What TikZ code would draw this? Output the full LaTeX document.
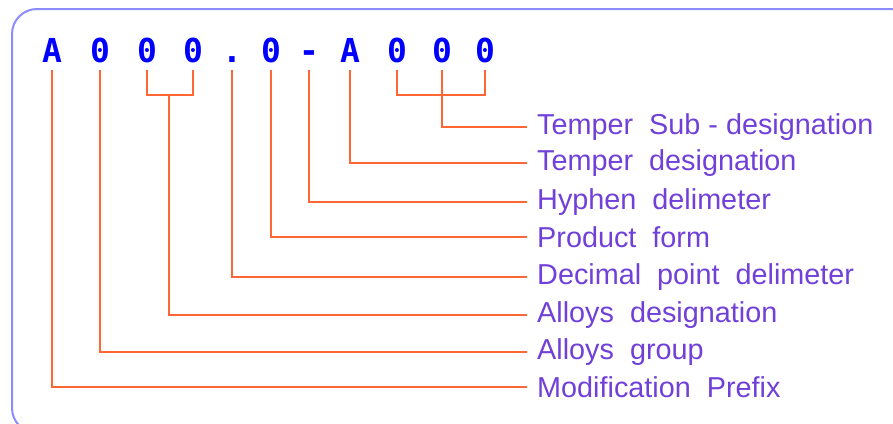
\documentclass[tikz,border=0pt]{standalone}
\usepackage{fontspec}
\setmainfont{Liberation Sans}
\newfontfamily\codefont{DejaVu Sans Mono}
\definecolor{codeblue}{RGB}{0,0,255}
\definecolor{leadorange}{RGB}{255,102,51}
\definecolor{labelpurple}{RGB}{112,64,216}
\definecolor{framecol}{RGB}{140,140,255}
\begin{document}
\begin{tikzpicture}[x=1pt,y=-1pt,
  codechar/.style={font=\codefont\bfseries\fontsize{33}{33}\selectfont, text=codeblue, inner sep=0pt, anchor=base},
  lbl/.style={font=\fontsize{28.8}{29}\selectfont, text=labelpurple, inner sep=0pt, anchor=base west},
  lead/.style={draw=leadorange, line width=2pt}]
\useasboundingbox (0,0) rectangle (893,423);
\begin{scope}
\clip (0,0) rectangle (893,423);
\draw[framecol, line width=2pt, rounded corners=25pt] (12,9) rectangle (915,433);
\end{scope}
% code characters
\node[codechar] (c1) at (52,62) {A};
\node[codechar] (c2) at (100,62) {0};
\node[codechar] (c3) at (147,62) {0};
\node[codechar] (c4) at (193,62) {0};
\node[codechar] (c5) at (232,62) {.};
\node[codechar] (c6) at (271,62) {0};
\node[codechar] (c7) at (309,62) {-};
\node[codechar] (c8) at (350,62) {A};
\node[codechar] (c9) at (397,62) {0};
\node[codechar] (c10) at (442,62) {0};
\node[codechar] (c11) at (485,62) {0};
% labels
\node[lbl] (l1) at (537,134) {Temper\ \ Sub - designation};
\node[lbl] (l2) at (537,170) {Temper\ \ designation};
\node[lbl] (l3) at (537,209) {Hyphen\ \ delimeter};
\node[lbl] (l4) at (537,247) {Product\ \ form};
\node[lbl] (l5) at (537,284) {Decimal\ \ point\ \ delimeter};
\node[lbl] (l6) at (537,322) {Alloys\ \ designation};
\node[lbl] (l7) at (537,359) {Alloys\ \ group};
\node[lbl] (l8) at (537,397) {Modification\ \ Prefix};
% junction coordinates
\coordinate (b1) at (169,95);
\coordinate (b2) at (442,95);
% leaders
\draw[lead] (c3.south |- 0,70) |- (b1) -| (c4.south |- 0,70);
\draw[lead] (c9.south |- 0,70) |- (b2) -| (c11.south |- 0,70);
\draw[lead] (c10.south |- 0,70) -- (b2);
\draw[lead] (b2) |- ([xshift=-10pt]l1.west);
\draw[lead] (c8.south |- 0,70) |- ([xshift=-10pt]l2.west);
\draw[lead] (c7.south |- 0,70) |- ([xshift=-10pt]l3.west);
\draw[lead] (c6.south |- 0,70) |- ([xshift=-10pt]l4.west);
\draw[lead] (c5.south |- 0,70) |- ([xshift=-10pt]l5.west);
\draw[lead] (b1) |- ([xshift=-10pt]l6.west);
\draw[lead] (c2.south |- 0,70) |- ([xshift=-10pt]l7.west);
\draw[lead] (c1.south |- 0,70) |- ([xshift=-10pt]l8.west);
\end{tikzpicture}
\end{document}
